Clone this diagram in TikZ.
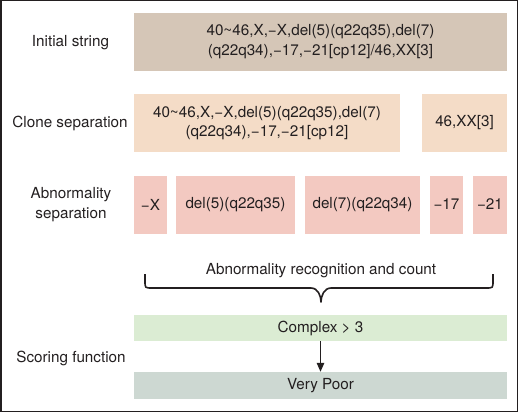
\documentclass[tikz,border=0pt]{standalone}
\usepackage{fontspec}
\setmainfont{TeX Gyre Heros}
\usetikzlibrary{arrows.meta}
\definecolor{cinit}{HTML}{D5C6B7}
\definecolor{cclone}{HTML}{F4DCC7}
\definecolor{cabn}{HTML}{F3C9C1}
\definecolor{ccomplex}{HTML}{DBECD3}
\definecolor{cpoor}{HTML}{CDD8D2}
\definecolor{txt}{HTML}{231F20}
\begin{document}
\begin{tikzpicture}[x=1bp,y=-1bp,
  every node/.style={font=\fontsize{15.3}{19.5}\selectfont, text=txt},
  box/.style={inner sep=0pt, minimum width=#1, minimum height=58bp, align=center},
  thinbox/.style={inner sep=0pt, minimum width=373bp, minimum height=26bp},
  lbl/.style={align=center, inner sep=0pt}]
\useasboundingbox (0,0) rectangle (520,413);
\draw[line width=1.2bp, txt] (1,0.6) rectangle (517.4,411.6);
% left labels
\node[lbl] (l1) at (70.5,43) {Initial string};
\node[lbl] (l2) at (70,123) {Clone separation};
\node[lbl] (l3) at (71,204.5) {Abnormality\\separation};
\node[lbl] (l4) at (71,358) {Scoring function};
% boxes
\node[box=373bp, fill=cinit] (init) at (320.5,41.5) {40\textasciitilde46,X,−X,del(5)(q22q35),del(7)\\(q22q34),−17,−21[cp12]/46,XX[3]};
\node[box=266bp, fill=cclone] (c1) at (267,123) {40\textasciitilde46,X,−X,del(5)(q22q35),del(7)\\(q22q34),−17,−21[cp12]};
\node[box=85bp, fill=cclone] (c2) at (464.5,123) {46,XX[3]};
\node[box=33bp, fill=cabn] (a1) at (150.5,204.5) {−X};
\node[box=119bp, fill=cabn] (a2) at (235.5,204.5) {del(5)(q22q35)};
\node[box=115bp, fill=cabn] (a3) at (362.5,204.5) {del(7)(q22q34)};
\node[box=33bp, fill=cabn] (a4) at (446.5,204.5) {−17};
\node[box=34bp, fill=cabn] (a5) at (490,204.5) {−21};
\node[lbl] (rec) at (321,271) {Abnormality recognition and count};
\node[thinbox, fill=ccomplex] (cx) at (320.5,328) {Complex > 3};
\node[thinbox, fill=cpoor, minimum height=27bp] (vp) at (320.5,385.5) {Very Poor};
% brace
\draw[line width=1.6bp, txt, line join=round]
  (145,274) -- (145,281) .. controls (145,288) .. (152,288) -- (311,288)
  .. controls (318,288) and (321,296) .. (321,302)
  .. controls (321,296) and (324,288) .. (331,288) -- (486,288)
  .. controls (493,288) .. (493,281) -- (493,274);
\draw[line width=1.3bp, txt, -{Triangle[length=9bp,width=7.5bp]}] (cx.south) -- (vp.north);
\end{tikzpicture}
\end{document}
